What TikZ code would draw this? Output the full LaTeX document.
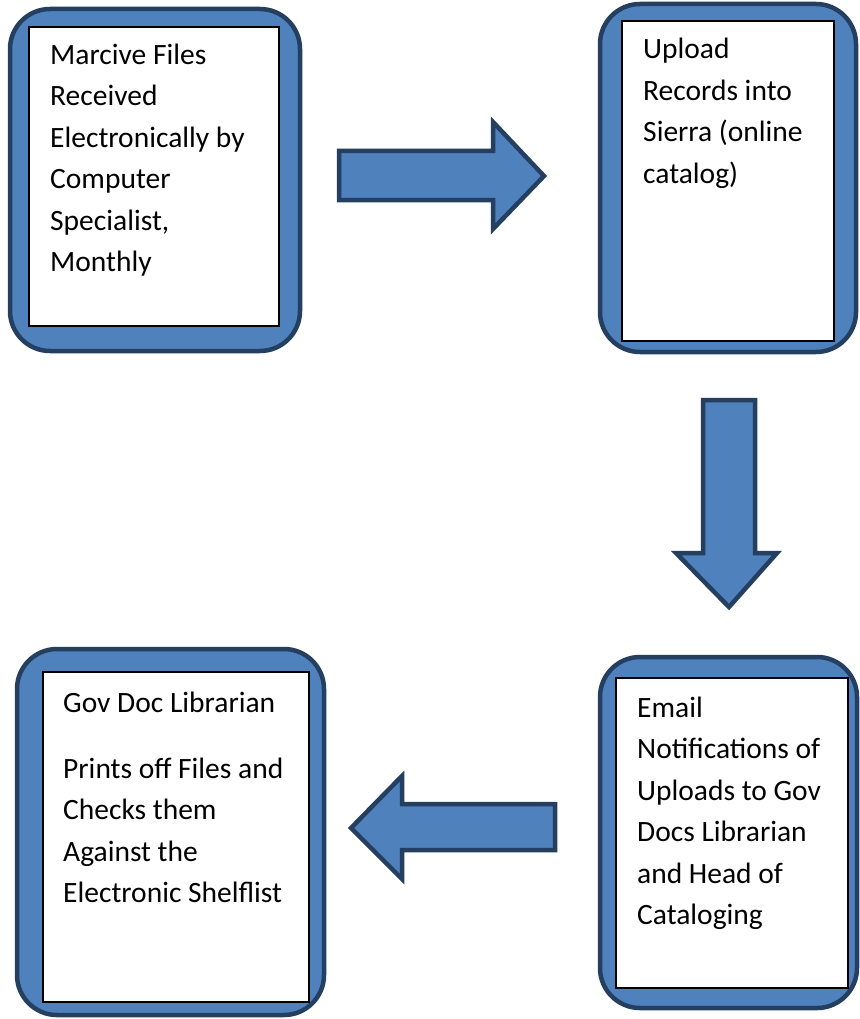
\documentclass[tikz,border=0pt]{standalone}
\usepackage{fontspec}
\setmainfont{Carlito}
\definecolor{boxblue}{HTML}{4F81BD}
\definecolor{boxedge}{HTML}{243F60}
\tikzset{
  outerbox/.style={draw=boxedge, fill=boxblue, line width=4.5pt, rounded corners=40pt, rectangle, inner sep=0pt},
  innerbox/.style={draw=black, fill=white, line width=1.3pt, rectangle, inner sep=0pt},
  boxtext/.style={anchor=base west, inner sep=0pt, align=left, font=\fontsize{29.5}{41.5}\selectfont},
  blockarrow/.style={draw=boxedge, fill=boxblue, line width=4.5pt, line join=miter}
}
\begin{document}
\begin{tikzpicture}[x=1pt,y=-1pt]
\useasboundingbox[fill=white] (0,0) rectangle (859,1019);
% boxes
\node[outerbox, minimum width=290pt, minimum height=342pt] (o1) at (155,180) {};
\node[innerbox, minimum width=250pt, minimum height=299pt] (i1) at (154,176.5) {};
\node[boxtext] (t1) at (50,271.5) {Marcive Files\\Received\\Electronically by\\Computer\\Specialist,\\Monthly};

\node[outerbox, minimum width=256pt, minimum height=348pt] (o2) at (728,178) {};
\node[innerbox, minimum width=212pt, minimum height=320pt] (i2) at (728,181) {};
\node[boxtext] (t2) at (643,183.5) {Upload\\Records into\\Sierra (online\\catalog)};

\node[outerbox, minimum width=257pt, minimum height=351pt] (o4) at (728.5,832.5) {};
\node[innerbox, minimum width=232pt, minimum height=310pt] (i4) at (732,833) {};
\node[boxtext] (t4) at (637,924.5) {Email\\Notifications of\\Uploads to Gov\\Docs Librarian\\and Head of\\Cataloging};

\node[outerbox, minimum width=307pt, minimum height=366pt] (o3) at (170.5,832) {};
\node[innerbox, minimum width=266pt, minimum height=330pt] (i3) at (176,837) {};
\node[boxtext] (t3) at (63,902.5) {Gov Doc Librarian\\[24.5pt]Prints off Files and\\Checks them\\Against the\\Electronic Shelflist};

% block arrows
\draw[blockarrow] (339,151) -- (493,151) -- (493,122) -- (544,176) -- (493,229) -- (493,200) -- (339,200) -- cycle;
\draw[blockarrow] (703,400) -- (755,400) -- (755,553) -- (777,553) -- (729,607) -- (676,553) -- (703,553) -- cycle;
\draw[blockarrow] (555,804) -- (402,804) -- (402,776) -- (351,828) -- (402,879) -- (402,850) -- (555,850) -- cycle;
\end{tikzpicture}
\end{document}
